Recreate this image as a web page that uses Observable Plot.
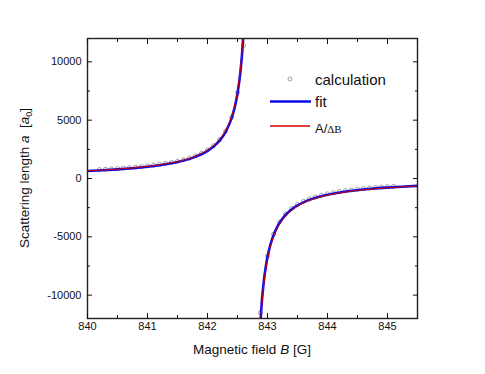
<!DOCTYPE html>
<html><head><meta charset="utf-8">
<script src="https://cdn.jsdelivr.net/npm/d3@7"></script>
<script src="https://cdn.jsdelivr.net/npm/@observablehq/plot@0.6"></script>
<style>
body{margin:0;background:#fff;}
#wrap{position:relative;width:485px;height:374px;}
</style></head><body><div id="wrap"></div>
<script>
// calculation points (B in G, a in a0)
const calcB = [840.2,840.3,840.4,840.5,840.6,840.7,840.8,840.9,841.0,841.1,841.2,841.3,841.4,841.5,841.6,841.7,841.8,841.9,842.0,842.1,842.2,842.3,842.4,842.5,842.6,
  842.88,843.0,843.1,843.2,843.3,843.4,843.5,843.6,843.7,843.8,843.9,844.0,844.1,844.2,844.3,844.4,844.5,844.6,844.7,844.8,844.9,845.0,845.1];
const calcA = [769,797,828,861,898,938,982,1031,1086,1147,1216,1295,1386,1491,1615,1763,1942,2163,2445,2814,3321,4057,5227,7372,11400,
  -11500,-6651,-4781,-3724,-3045,-2572,-2223,-1955,-1743,-1571,-1429,-1309,-1207,-1119,-1042,-974,-914,-861,-813,-770,-730,-694,-662];

// fit curve, below and above the resonance
const fitLowB  = [840,840.25,840.5,840.75,841,841.25,841.5,841.75,842,842.1,842.2,842.3,842.4,842.45,842.5,842.55,842.58,842.61];
const fitLowA  = [639,703,781,879,1006,1174,1411,1768,2365,2734,3241,3977,5147,6034,7292,9211,10938,13462];
const fitHighB = [842.87,842.9,842.93,842.98,843.03,843.08,843.18,843.28,843.38,843.48,843.73,843.98,844.23,844.48,844.73,844.98,845.23,845.5];
const fitHighA = [-13462,-10938,-9211,-7292,-6034,-5147,-3977,-3241,-2734,-2365,-1768,-1411,-1174,-1006,-879,-781,-703,-634];

// A/ΔB curve
const adbLowA  = [657,723,803,904,1034,1208,1451,1818,2432,2812,3333,4091,5294,6207,7500,9474,11250,13846];
const adbHighA = [-13846,-11250,-9474,-7500,-6207,-5294,-4091,-3333,-2812,-2432,-1818,-1451,-1208,-1034,-904,-803,-723,-652];

const xTicks = [840,841,842,843,844,845];
const xMinor = [840.5,841.5,842.5,843.5,844.5,845.5];
const yTicks = [-10000,-5000,0,5000,10000];
const yMinor = [-7500,-2500,2500,7500];

const calc = calcB.map((b,i)=>({B:b,a:calcA[i]}));
const fitLow = fitLowB.map((b,i)=>({B:b,a:fitLowA[i]}));
const fitHigh = fitHighB.map((b,i)=>({B:b,a:fitHighA[i]}));
const adbLow = fitLowB.map((b,i)=>({B:b,a:adbLowA[i]}));
const adbHigh = fitHighB.map((b,i)=>({B:b,a:adbHighA[i]}));

const W=485,H=374,mL=87,mR=68,mT=38,mB=56;
const font = "Liberation Sans, Arial, Helvetica, sans-serif";
const blank = () => "";
const plain = d => String(d);
const blue = "#0a0ae6", red = "#d00000";

const chart = Plot.plot({
  width: W, height: H,
  marginLeft: mL, marginRight: mR, marginTop: mT, marginBottom: mB,
  style: {fontFamily: font, fontSize: "11px", color: "#111", background: "white"},
  x: {domain: [840, 845.5]},
  y: {domain: [-12000, 12000]},
  marks: [
    Plot.dot(calc, {x:"B", y:"a", r:2, stroke:"#8c8c8c", strokeWidth:0.8, fill:"none", clip:true}),
    Plot.line(fitLow, {x:"B", y:"a", stroke:blue, strokeWidth:2.6, curve:"monotone-x", clip:true}),
    Plot.line(fitHigh, {x:"B", y:"a", stroke:blue, strokeWidth:2.6, curve:"monotone-x", clip:true}),
    Plot.line(adbLow, {x:"B", y:"a", stroke:red, strokeWidth:1, curve:"monotone-x", clip:true}),
    Plot.line(adbHigh, {x:"B", y:"a", stroke:red, strokeWidth:1, curve:"monotone-x", clip:true}),
    Plot.frame({stroke:"#222", strokeWidth:1.4}),
    Plot.axisX(xTicks, {anchor:"bottom", tickSize:-5, tickPadding:9, tickFormat:plain, label:null, fontSize:11}),
    Plot.axisX(xMinor, {anchor:"bottom", tickSize:-3, tickFormat:blank, label:null}),
    Plot.axisX(xTicks, {anchor:"top", tickSize:-5, tickFormat:blank, label:null}),
    Plot.axisX(xMinor, {anchor:"top", tickSize:-3, tickFormat:blank, label:null}),
    Plot.axisY(yTicks, {anchor:"left", tickSize:-5, tickPadding:11, tickFormat:plain, label:null, fontSize:11}),
    Plot.axisY(yMinor, {anchor:"left", tickSize:-3, tickFormat:blank, label:null}),
    Plot.axisY(yTicks, {anchor:"right", tickSize:-5, tickFormat:blank, label:null}),
    Plot.axisY(yMinor, {anchor:"right", tickSize:-3, tickFormat:blank, label:null})
  ]
});
document.getElementById("wrap").appendChild(chart);

const svg = d3.select(chart);
const cx = mL + (W-mL-mR)/2, cy = mT + (H-mT-mB)/2;
// x label
const xl = svg.append("text").attr("x", cx).attr("y", H-20).attr("text-anchor","middle")
  .attr("font-family", font).attr("font-size", 13.5).attr("fill","#111");
xl.append("tspan").text("Magnetic field ");
xl.append("tspan").attr("font-style","italic").text("B");
xl.append("tspan").text(" [G]");
// y label
const yl = svg.append("text").attr("transform", `translate(29,${cy}) rotate(-90)`).attr("text-anchor","middle")
  .attr("font-family", font).attr("font-size", 13.5).attr("fill","#111");
yl.append("tspan").text("Scattering length ");
yl.append("tspan").attr("font-style","italic").text("a");
yl.append("tspan").attr("xml:space","preserve").text("  [");
yl.append("tspan").attr("font-style","italic").text("a");
yl.append("tspan").attr("font-size",9).attr("dy",3).text("0");
yl.append("tspan").attr("dy",-3).text("]");

// legend
const lg = svg.append("g").attr("font-family", font).attr("font-size", 15).attr("fill","#111").attr("text-anchor","start");
lg.append("circle").attr("cx",290).attr("cy",79).attr("r",2).attr("fill","none").attr("stroke","#8c8c8c").attr("stroke-width",0.8);
lg.append("text").attr("x",315).attr("y",85).text("calculation");
lg.append("line").attr("x1",270).attr("x2",311).attr("y1",101.5).attr("y2",101.5).attr("stroke",blue).attr("stroke-width",2.6);
lg.append("text").attr("x",315).attr("y",107).text("fit");
lg.append("line").attr("x1",270).attr("x2",310).attr("y1",126).attr("y2",126).attr("stroke",red).attr("stroke-width",1.3);
const t3 = lg.append("text").attr("x",315).attr("y",133).attr("font-size",13);
t3.append("tspan").text("A/");
t3.append("tspan").attr("font-family","Liberation Serif, Times New Roman, serif").attr("font-size",11).text("ΔB");
</script>
</body></html>
